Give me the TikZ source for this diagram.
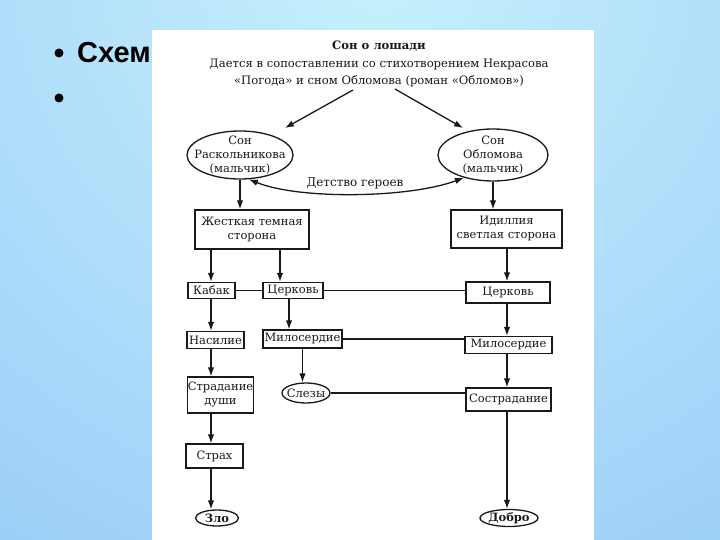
\documentclass[tikz,border=0pt]{standalone}
\usepackage{fontspec}
\setmainfont{DejaVu Serif}
\newfontfamily\slidefont{Liberation Sans}
\usetikzlibrary{shapes.geometric,arrows.meta,calc}
\definecolor{bgin}{RGB}{200,240,252}
\definecolor{bgout}{RGB}{118,178,245}
\definecolor{ink}{RGB}{25,25,25}
\newcommand\myfsbox{\fontsize{11.5}{14}\selectfont}
\newcommand\myfstitle{\fontsize{11.6}{17.5}\selectfont}
\tikzset{
  box/.style={draw=ink, line width=1.3pt, rectangle, inner sep=0pt, align=center, font=\myfsbox, text=ink},
  ell/.style={draw=ink, line width=1.3pt, ellipse, inner sep=0pt},
  lbl/.style={align=center, text=ink, inner sep=0pt, font=\myfsbox},
  arr/.style={draw=ink, line width=1.3pt, -{Latex[length=9pt,width=6.5pt]}},
  dblarr/.style={draw=ink, line width=1.3pt, {Latex[length=9pt,width=6.5pt]}-{Latex[length=9pt,width=6.5pt]}},
  ln/.style={draw=ink, line width=1.3pt},
}
\begin{document}
\begin{tikzpicture}[x=1pt,y=-1pt]
\useasboundingbox (0,0) rectangle (720,540);
% background
\begin{scope}
\clip (0,0) rectangle (720,540);
\shade[inner color=bgin, outer color=bgout] (380,-40) circle (1300pt);
\end{scope}
% slide bullets
\fill (59,53) circle (4.5pt);
\fill (59,98) circle (4.5pt);
\node[anchor=base west, inner sep=0pt, font=\slidefont\bfseries\fontsize{29}{32}\selectfont] (slidetitle) at (77,63) {Схем};
% white panel
\fill[white] (152,30) rectangle (594,540);

% title
\node[lbl, font=\myfstitle] (title) at (379,64)
  {\textbf{Сон о лошади}\\Дается в сопоставлении со стихотворением Некрасова\\«Погода» и сном Обломова (роман «Обломов»)};
\coordinate (tl) at (353,90);
\coordinate (tr) at (395,89);
\coordinate (al) at (285,128);
\coordinate (ar) at (463,128);

% ellipses
\node[ell, minimum width=106pt, minimum height=48pt] (rask) at (240,155) {};
\node[lbl] (rasktxt) at (rask) {Сон\\Раскольникова\\(мальчик)};
\node[ell, minimum width=110pt, minimum height=52pt] (oblom) at (493,155) {};
\node[lbl] (oblomtxt) at (oblom) {Сон\\Обломова\\(мальчик)};

\draw[arr] (tl) -- (al);
\draw[arr] (tr) -- (ar);

\draw[dblarr] (rask.-70) .. controls (300,200) and (410,198) .. (oblom.-142);
\node[lbl, font=\fontsize{12}{14}\selectfont] (childhood) at (355,183) {Детство героев};

% boxes
\node[box, minimum width=114pt, minimum height=39pt] (jest) at (252,229.5) {Жесткая темная\\сторона};
\node[box, minimum width=111pt, minimum height=38pt] (idil) at (506.5,229) {Идиллия\\светлая сторона};
\node[box, minimum width=47pt, minimum height=16pt] (kabak) at (211.5,290.5) {Кабак};
\node[box, minimum width=60pt, minimum height=16pt] (cerk1) at (293,290.5) {Церковь};
\node[box, minimum width=84pt, minimum height=21pt] (cerk2) at (508,292.5) {Церковь};
\node[box, minimum width=57pt, minimum height=17pt] (nasil) at (215.5,340) {Насилие};
\node[box, minimum width=79pt, minimum height=18pt] (milo1) at (302.5,339) {Милосердие};
\node[box, minimum width=87pt, minimum height=17pt] (milo2) at (508.5,345) {Милосердие};
\node[box, minimum width=65pt, minimum height=36pt] (strad) at (220.5,395) {Страдание\\души};
\node[ell, minimum width=48pt, minimum height=20pt] (slezy) at (306,393) {};
\node[lbl] (slezytxt) at (slezy) {Слезы};
\node[box, minimum width=85pt, minimum height=23pt] (sostr) at (508.5,399.5) {Сострадание};
\node[box, minimum width=57pt, minimum height=24pt] (strah) at (214.5,456) {Страх};
\node[ell, minimum width=43pt, minimum height=16pt] (zlo) at (217,518) {};
\node[lbl] (zlotxt) at (zlo) {\textbf{Зло}};
\node[ell, minimum width=58pt, minimum height=17pt] (dobro) at (509,518) {};
\node[lbl] (dobrotxt) at (dobro) {\textbf{Добро}};

\coordinate (lx) at (211,0);
\coordinate (c1top) at ($(cerk1.north)+(-13,0)$);
\coordinate (c1bot) at ($(cerk1.south)+(-4,0)$);
\coordinate (mx) at (507,0);

% connectors
\draw[arr] (rask.south) -- (rask.south |- jest.north);
\draw[arr] (oblom.south) -- (oblom.south |- idil.north);
\draw[arr] (lx |- jest.south) -- (lx |- kabak.north);
\draw[arr] (c1top |- jest.south) -- (c1top);
\draw[arr] (mx |- idil.south) -- (mx |- cerk2.north);
\draw[ln] (kabak.east) -- (cerk1.west);
\draw[ln] (cerk1.east) -- (cerk1.east -| cerk2.west);
\draw[arr] (lx |- kabak.south) -- (lx |- nasil.north);
\draw[arr] (c1bot) -- (c1bot |- milo1.north);
\draw[arr] (mx |- cerk2.south) -- (mx |- milo2.north);
\draw[ln] (milo1.east) -- (milo1.east -| milo2.west);
\draw[arr] (lx |- nasil.south) -- (lx |- strad.north);
\draw[arr] (milo1.south) -- (milo1.south |- slezy.north);
\draw[arr] (mx |- milo2.south) -- (mx |- sostr.north);
\draw[ln] (slezy.east) -- (slezy.east -| sostr.west);
\draw[arr] (lx |- strad.south) -- (lx |- strah.north);
\draw[arr] (lx |- strah.south) -- (lx |- zlo.north);
\draw[arr] (mx |- sostr.south) -- (mx |- dobro.north);
\end{tikzpicture}
\end{document}
